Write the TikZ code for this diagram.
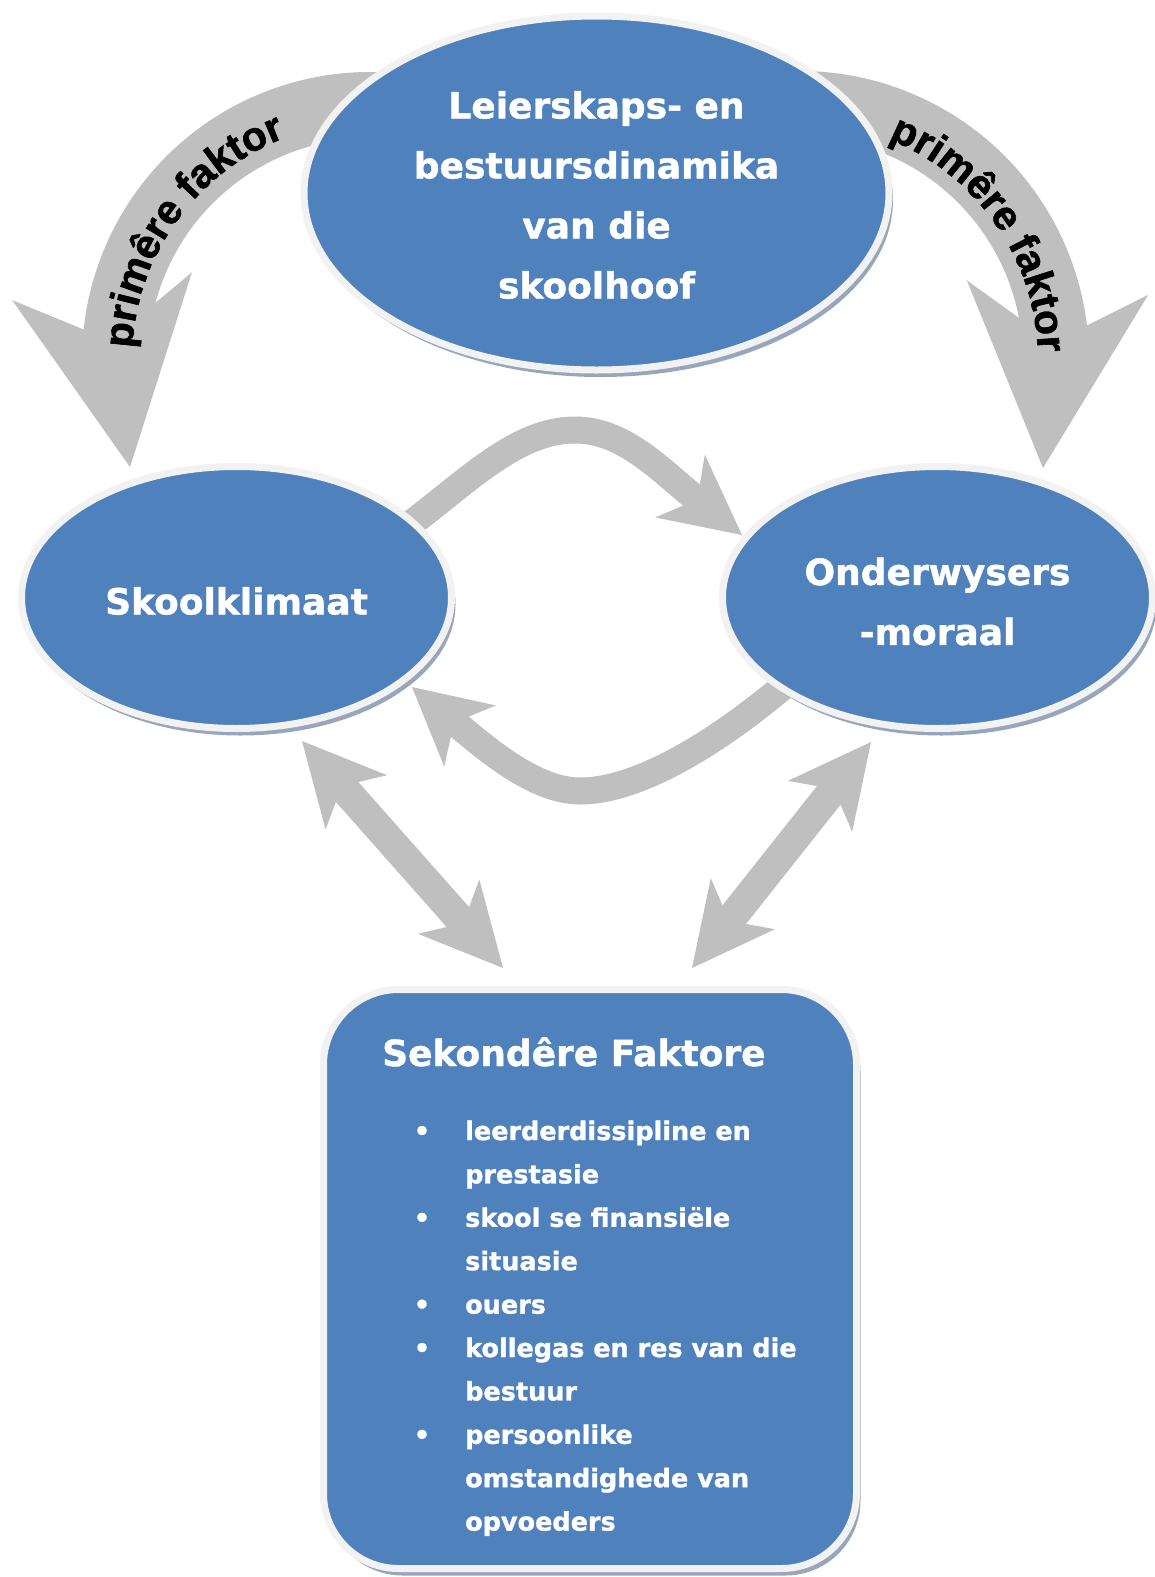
\documentclass[tikz,border=0pt]{standalone}
\usepackage{fontspec}
\setmainfont{DejaVu Sans}[BoldFeatures={FakeBold=1.2}]
\newfontfamily\arialf{Liberation Sans}[BoldFeatures={FakeBold=1.5}]
\usetikzlibrary{shapes.geometric,calc,decorations.text,shadows}
\definecolor{blu}{HTML}{4F81BD}
\definecolor{rimc}{HTML}{F2F2F2}
\definecolor{arrowc}{HTML}{BFBFBF}
\definecolor{shadc}{HTML}{98A6BC}
\newcommand\blockhead[5]{%
  \coordinate (hb) at ($(#1)!#3!(#2)$);
  \coordinate (hn) at ($(#1)!#5!(#2)$);
  \coordinate (hl) at ($(hb)!#4!90:(#1)$);
  \coordinate (hr) at ($(hb)!#4!-90:(#1)$);
  \fill[arrowc] (#1) -- (hl) -- (hn) -- (hr) -- cycle;}
\newcommand\curvfont{\arialf\bfseries\fontsize{41}{43}\selectfont}
\begin{document}
\begin{tikzpicture}[x=1pt,y=-1pt,
  bigshaft/.style={draw=arrowc,line width=66pt},
  midshaft/.style={draw=arrowc,line width=27pt},
  diagshaft/.style={draw=arrowc,line width=30pt},
  shadowed/.style={drop shadow={shadow xshift=4pt,shadow yshift=-7pt,fill=shadc,opacity=1}},
  ell/.style={ellipse,draw=rimc,line width=7pt,fill=blu,inner sep=0pt,shadowed},
  boxs/.style={rectangle,rounded corners=75pt,draw=rimc,line width=7pt,fill=blu,inner sep=0pt,shadowed},
  lbl/.style={text=white,font=\fontsize{36}{60}\selectfont\bfseries,align=center,inner sep=0pt},
  itm/.style={text=white,font=\fontsize{25.5}{43.4}\selectfont\bfseries,anchor=base west,inner sep=0pt},
  bul/.style={text=white,font=\fontsize{25.5}{43.4}\selectfont\bfseries,anchor=base,inner sep=0pt},
  curvtext/.style={decorate,decoration={text along path,text align=center,
     text={|\curvfont|primêre faktor}}}
]
\useasboundingbox[fill=white] (0,0) rectangle (1155,1577);

% ---------- primary curved arrows ----------
\coordinate (cL) at (370,360);
\coordinate (cR) at (800,360);
\draw[bigshaft] (cL) ++(280:255) arc[start angle=280,end angle=183,radius=255];
\coordinate (pLtip) at (130,467);
\coordinate (pLref) at (102,286);
\blockhead{pLtip}{pLref}{183pt}{91pt}{128pt}
{\curvfont
\path[curvtext] (cL) ++(178:238) arc[start angle=178,end angle=254,radius=238];}

\draw[bigshaft] (cR) ++(260:256) arc[start angle=260,end angle=357,radius=256];
\coordinate (pRtip) at (1043,468);
\coordinate (pRref) at (1057.5,287.5);
\blockhead{pRtip}{pRref}{181pt}{91pt}{126pt}
{\curvfont
\path[curvtext] (cR) ++(-74:238) arc[start angle=-74,end angle=4,radius=238];}

% ---------- middle curved arrows ----------
\coordinate (mUs) at (400,532);
\coordinate (mUe) at (700,502);
\coordinate (mUtip) at (742,535);
\coordinate (mUref) at (680,486);
\draw[midshaft] (mUs) .. controls (465,484) and (515,430) .. (575,430)
   .. controls (625,430) and (661,471) .. (mUe);
\blockhead{mUtip}{mUref}{79pt}{40pt}{57pt}

\coordinate (mLs) at (785,685);
\coordinate (mLe) at (452,720);
\coordinate (mLtip) at (412,687);
\coordinate (mLref) at (470,736);
\draw[midshaft] (mLs) .. controls (720,740) and (640,791) .. (580,791)
   .. controls (535,791) and (486,749) .. (mLe);
\blockhead{mLtip}{mLref}{76pt}{40pt}{55pt}

% ---------- diagonal double arrows ----------
\coordinate (dLa) at (302,741);
\coordinate (dLb) at (503,968);
\draw[diagshaft] ($(dLa)!55pt!(dLb)$) -- ($(dLb)!55pt!(dLa)$);
\blockhead{dLa}{dLb}{82pt}{41pt}{60pt}
\blockhead{dLb}{dLa}{82pt}{41pt}{60pt}

\coordinate (dRa) at (871,742);
\coordinate (dRb) at (692,968);
\draw[diagshaft] ($(dRa)!55pt!(dRb)$) -- ($(dRb)!55pt!(dRa)$);
\blockhead{dRa}{dRb}{82pt}{41pt}{60pt}
\blockhead{dRb}{dRa}{82pt}{41pt}{60pt}

% ---------- nodes ----------
\node[ell,minimum width=585pt,minimum height=354pt] (top) at (596.5,193) {};
\node[lbl] (toptxt) at (596.5,195) {Leierskaps- en\\bestuursdinamika\\van die\\skoolhoof};

\node[ell,minimum width=430pt,minimum height=262pt] (left) at (236.5,597.5) {};
\node[lbl] (lefttxt) at (236.5,601) {Skoolklimaat};

\node[ell,minimum width=430pt,minimum height=262pt] (right) at (937.5,597.5) {};
\node[lbl] (righttxt) at (937.5,601.5) {Onderwysers\\-moraal};

\node[boxs,minimum width=533pt,minimum height=579pt] (box) at (590,1279) {};
\node[lbl,anchor=base west] (title) at (382,1066) {Sekondêre Faktore};

\node[bul] (b1) at (422,1140) {•};
\node[itm] (l1) at (465,1140) {leerderdissipline en};
\node[itm] (l2) at (465,1183.4) {prestasie};
\node[bul] (b2) at (422,1226.8) {•};
\node[itm] (l3) at (465,1226.8) {skool se finansiële};
\node[itm] (l4) at (465,1270.2) {situasie};
\node[bul] (b3) at (422,1313.6) {•};
\node[itm] (l5) at (465,1313.6) {ouers};
\node[bul] (b4) at (422,1357) {•};
\node[itm] (l6) at (465,1357) {kollegas en res van die};
\node[itm] (l7) at (465,1400.4) {bestuur};
\node[bul] (b5) at (422,1443.8) {•};
\node[itm] (l8) at (465,1443.8) {persoonlike};
\node[itm] (l9) at (465,1487.2) {omstandighede van};
\node[itm] (l10) at (465,1530.6) {opvoeders};
\end{tikzpicture}
\end{document}
